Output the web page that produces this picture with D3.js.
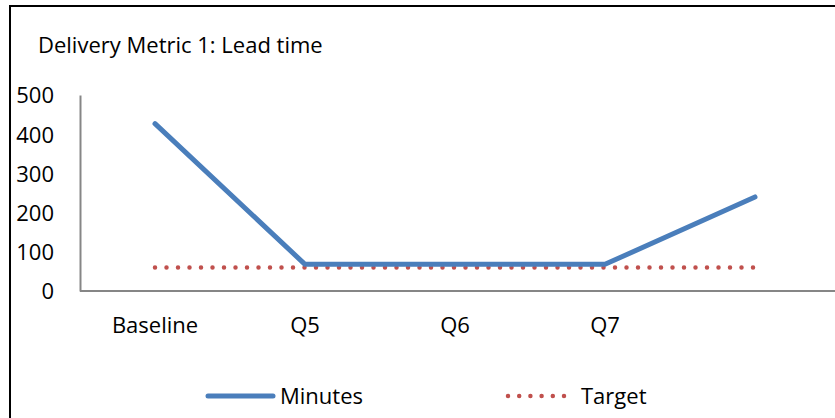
<!DOCTYPE html>
<html><head><meta charset="utf-8">
<script src="https://cdn.jsdelivr.net/npm/d3@7/dist/d3.min.js"></script>
<style>body{margin:0;background:#fff}svg{display:block}text{font-family:"Open Sans",sans-serif;fill:#000}</style>
</head><body><svg id="c" width="835" height="418"></svg>
<script>
const categories = ["Baseline", "Q5", "Q6", "Q7", ""];
const minutes = [427, 68, 68, 68, 240];
const target = [60, 60, 60, 60, 60];
const yTicks = [0, 100, 200, 300, 400, 500];
const title = "Delivery Metric 1: Lead time";
const seriesNames = ["Minutes", "Target"];

const svg = d3.select("#c");
svg.append("rect").attr("x", 10).attr("y", 6).attr("width", 840).attr("height", 430)
  .attr("fill", "#fff").attr("stroke", "#000").attr("stroke-width", 2);

const x = d3.scaleBand().domain(d3.range(categories.length)).range([80, 830]);
const y = d3.scaleLinear().domain([0, 500]).range([291, 95]);
const cx = i => x(i) + x.bandwidth() / 2;

svg.append("text").attr("x", 38).attr("y", 53).attr("font-size", 22).text(title);

// y axis
const ya = svg.append("g").attr("transform", "translate(80,0)")
  .call(d3.axisLeft(y).tickValues(yTicks).tickSize(0).tickFormat(d3.format("d")));
ya.select(".domain").attr("stroke", "#868686").attr("stroke-width", 2);
ya.selectAll("text").attr("x", -26).attr("dy", "0.36em").attr("text-anchor", "end").attr("font-size", 22)
  .attr("font-family", "Open Sans").attr("fill", "#000");

// x axis
const xa = svg.append("g").attr("transform", "translate(0,291)")
  .call(d3.axisBottom(x).tickSize(0).tickFormat(i => categories[i]));
xa.select(".domain").attr("stroke", "#868686").attr("stroke-width", 2).attr("d", "M80,0H835");
xa.selectAll("text").attr("y", 42).attr("dy", 0).attr("font-size", 22)
  .attr("font-family", "Open Sans").attr("fill", "#000");

const line = d3.line().x((d, i) => cx(i)).y(d => y(d));
svg.append("path").datum(target).attr("d", line).attr("fill", "none")
  .attr("stroke", "#C0504D").attr("stroke-width", 4.5).attr("stroke-linecap", "round")
  .attr("stroke-dasharray", "0 11.5");
svg.append("path").datum(minutes).attr("d", line).attr("fill", "none")
  .attr("stroke", "#4A7EBB").attr("stroke-width", 5).attr("stroke-linecap", "round")
  .attr("stroke-linejoin", "round");

// legend
const lg = svg.append("g");
lg.append("line").attr("x1", 208).attr("x2", 273).attr("y1", 396).attr("y2", 396)
  .attr("stroke", "#4A7EBB").attr("stroke-width", 5).attr("stroke-linecap", "round");
lg.append("text").attr("x", 280).attr("y", 404).attr("font-size", 22).text(seriesNames[0]);
lg.append("line").attr("x1", 508).attr("x2", 565).attr("y1", 396).attr("y2", 396)
  .attr("stroke", "#C0504D").attr("stroke-width", 4.5).attr("stroke-linecap", "round")
  .attr("stroke-dasharray", "0 11.2");
lg.append("text").attr("x", 581).attr("y", 404).attr("font-size", 22).text(seriesNames[1]);
</script></body></html>
